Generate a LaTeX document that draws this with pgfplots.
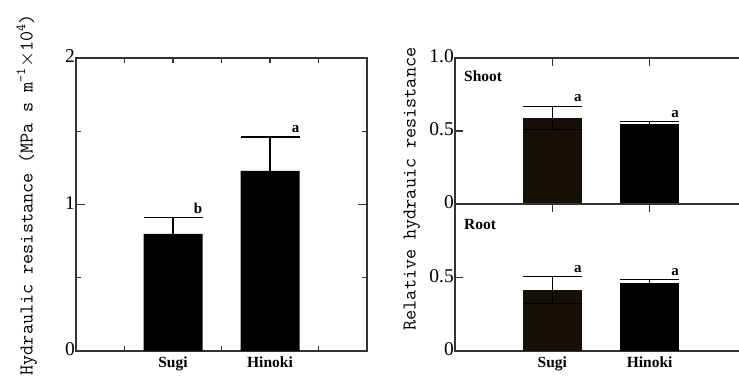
\documentclass[border=0pt]{standalone}
\usepackage{fontspec}
\setmainfont{Liberation Serif}
\usepackage{pgfplots}
\pgfplotsset{compat=1.18}

\definecolor{axisgray}{gray}{0.2}
\definecolor{sugidark}{RGB}{22,16,6}

% Measured values: mean and standard error
\pgfplotstableread{
x   y     e
2   0.80  0.11
4   1.23  0.23
}\totaltab
\pgfplotstableread{
x   y      e
1   0.59   0.08
}\shootsugi
\pgfplotstableread{
x   y      e
2   0.545  0.02
}\shoothinoki
\pgfplotstableread{
x   y      e
1   0.415  0.09
}\rootsugi
\pgfplotstableread{
x   y      e
2   0.465  0.02
}\roothinoki

\newcommand{\ticklabelfont}{\fontsize{19.5bp}{20bp}\selectfont}
\newcommand{\catfont}{\bfseries\fontsize{15.5bp}{18bp}\selectfont}
\newcommand{\sigfont}{\bfseries\fontsize{15bp}{18bp}\selectfont}

\pgfplotsset{
  panel/.style={
    scale only axis,
    anchor=south west,
    axis line style={axisgray, line width=1.6bp},
    every tick/.style={axisgray, line width=1.2bp},
    tick align=inside,
    yticklabel style={font=\ticklabelfont, inner sep=0pt, xshift=-1bp, yshift=1.5bp},
    xticklabel style={font=\catfont, inner sep=0pt, yshift=-6bp},
  },
  bars/.style={
    ybar, bar width=59bp, bar shift=0pt, draw=none, fill=#1,
    error bars/y explicit,
    error bars/error bar style={black, line width=1.3bp},
    error bars/error mark options={rotate=90, black, line width=1.3bp, mark size=29.5bp},
  },
}

\begin{document}
\begin{tikzpicture}
\useasboundingbox (0,0) rectangle (739bp,376bp);
\clip (0,0) rectangle (739bp,376bp);

% Left panel: whole-plant hydraulic resistance
\begin{axis}[panel, at={(76bp,25bp)}, width=291bp, height=293bp,
  xmin=0, xmax=6, ymin=0, ymax=2,
  xtick={2,4}, xticklabels={Sugi,Hinoki},
  minor xtick={1,2,3,4,5},
  major x tick style={draw=none},
  ytick={0,1,2}, yticklabels={0,1,2},
  minor ytick={0.5,1.5},
  major tick length=9bp, minor tick length=5bp]
\addplot[bars=black, error bars/y dir=plus] table[x=x, y=y, y error=e] {\totaltab};
\node[font=\sigfont, anchor=base east, inner sep=0pt, xshift=29.5bp, yshift=4.5bp] at (axis cs:2,0.91) {b};
\node[font=\sigfont, anchor=base east, inner sep=0pt, xshift=29.5bp, yshift=4.5bp] at (axis cs:4,1.46) {a};
\end{axis}

% Right panel, upper: shoot
\begin{axis}[panel, at={(455bp,172bp)}, width=292bp, height=146bp,
  xmin=0, xmax=3, ymin=0, ymax=1,
  xtick={1,2}, xticklabels={},
  ytick={0,0.5,1}, yticklabels={0,0.5,1.0},
  major tick length=8bp]
\addplot[bars=sugidark, error bars/y dir=both] table[x=x, y=y, y error=e] {\shootsugi};
\addplot[bars=black, error bars/y dir=both] table[x=x, y=y, y error=e] {\shoothinoki};
\node[font=\sigfont, anchor=base east, inner sep=0pt, xshift=29.5bp, yshift=4.5bp] at (axis cs:1,0.67) {a};
\node[font=\sigfont, anchor=base east, inner sep=0pt, xshift=29.5bp, yshift=4.5bp] at (axis cs:2,0.565) {a};
\node[font=\catfont, anchor=base west, inner sep=0pt, xshift=9bp, yshift=-24bp] at (rel axis cs:0,1) {Shoot};
\end{axis}

% Right panel, lower: root
\begin{axis}[panel, at={(455bp,25bp)}, width=292bp, height=147bp,
  xmin=0, xmax=3, ymin=0, ymax=1,
  xtick={1,2}, xticklabels={Sugi,\raisebox{-4bp}{Hinoki}},
  ytick={0,0.5,1}, yticklabels={0,0.5,},
  major tick length=8bp]
\addplot[bars=sugidark, error bars/y dir=both] table[x=x, y=y, y error=e] {\rootsugi};
\addplot[bars=black, error bars/y dir=both] table[x=x, y=y, y error=e] {\roothinoki};
\node[font=\sigfont, anchor=base east, inner sep=0pt, xshift=29.5bp, yshift=4.5bp] at (axis cs:1,0.505) {a};
\node[font=\sigfont, anchor=base east, inner sep=0pt, xshift=29.5bp, yshift=4.5bp] at (axis cs:2,0.485) {a};
\node[font=\catfont, anchor=base west, inner sep=0pt, xshift=9bp, yshift=-26bp] at (rel axis cs:0,1) {Root};
\end{axis}

% Axis titles
\node[rotate=90, anchor=base west, inner sep=0pt,
  font=\ttfamily\fontsize{19.6bp}{20bp}\selectfont] at (32.5bp,0.5bp)
  {Hydraulic resistance (MPa s m\textsuperscript{-1}$\times$10\textsuperscript{4})};
\node[rotate=90, anchor=base, inner sep=0pt,
  font=\ttfamily\fontsize{19.6bp}{20bp}\selectfont] at (415.5bp,187bp)
  {Relative hydrauic resistance};
\end{tikzpicture}
\end{document}
